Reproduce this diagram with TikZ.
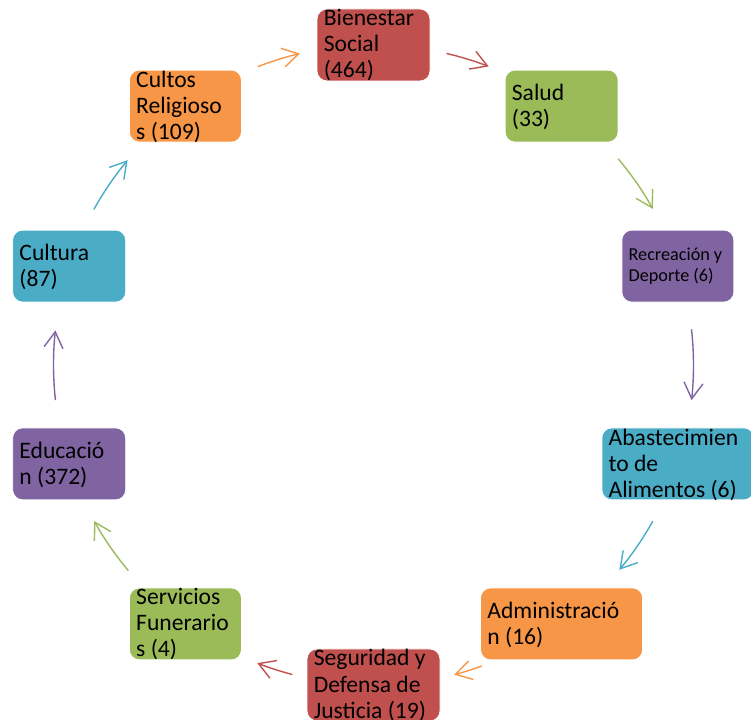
\documentclass[tikz,border=0pt]{standalone}
\usepackage{fontspec}
\setmainfont{Carlito}
\usetikzlibrary{calc,arrows.meta}
\definecolor{cred}{HTML}{C0504D}
\definecolor{cgreen}{HTML}{9BBB59}
\definecolor{cpurple}{HTML}{8064A2}
\definecolor{caqua}{HTML}{4BACC6}
\definecolor{corange}{HTML}{F79646}
\tikzset{
  box/.style={rectangle, rounded corners=10pt, draw=white, line width=0.8pt, inner sep=0pt,
    minimum width=113pt, minimum height=72pt},
  txt/.style={inner sep=0pt, align=left, anchor=base west, text=black,
    font=\fontsize{23.6}{26}\selectfont},
  smalltxt/.style={inner sep=0pt, align=left, anchor=base west, text=black,
    font=\fontsize{18.2}{21.7}\selectfont},
  arr/.style={line width=1.4pt, -{Straight Barb[length=16pt,width=19pt]}, looseness=0.85},
}
\begin{document}
\begin{tikzpicture}[x=1pt,y=1pt]
\useasboundingbox (0,0) rectangle (751,719);
\clip (0,0) rectangle (751,719);
\coordinate (O) at (373.5,354);
% boxes
\node[box, fill=cred] (bien) at ($(O)+(90:320)$) {};
\node[box, fill=cgreen] (salud) at ($(O)+(54:320)$) {};
\node[box, fill=cpurple, minimum width=112pt] (recre) at ($(O)+(18:320)$) {};
\node[box, fill=caqua, minimum width=152pt] (abast) at ($(O)+(-18:320)$) {};
\node[box, fill=corange, minimum width=162pt] (admin) at ($(O)+(-54:320)$) {};
\node[box, fill=cred, minimum width=133pt] (segur) at ($(O)+(-90:320)$) {};
\node[box, fill=cgreen, minimum width=112pt] (serv) at ($(O)+(-126:320)$) {};
\node[box, fill=cpurple] (educ) at ($(O)+(-162:320)$) {};
\node[box, fill=caqua] (cult) at ($(O)+(162:320)$) {};
\node[box, fill=corange, minimum width=112pt] (cultos) at ($(O)+(126:320)$) {};
% texts (base anchor = baseline of the last line)
\node[txt] (tbien) at ([xshift=7pt,yshift=-33pt]bien.west) {Bienestar\\Social\\(464)};
\node[txt] (tsalud) at ([xshift=7pt,yshift=-20.5pt]salud.west) {Salud\\(33)};
\node[smalltxt] (trecre) at ([xshift=7pt,yshift=-15.7pt]recre.west) {Recreación y\\Deporte (6)};
\node[txt] (tabast) at ([xshift=7pt,yshift=-33.5pt]abast.west) {Abastecimien\\to de\\Alimentos (6)};
\node[txt] (tadmin) at ([xshift=7pt,yshift=-21pt]admin.west) {Administració\\n (16)};
\node[txt] (tsegur) at ([xshift=7pt,yshift=-33pt]segur.west) {Seguridad y\\Defensa de\\Justicia (19)};
\node[txt] (tserv) at ([xshift=7pt,yshift=-32.5pt]serv.west) {Servicios\\Funerario\\s (4)};
\node[txt] (teduc) at ([xshift=7pt,yshift=-20.5pt]educ.west) {Educació\\n (372)};
\node[txt] (tcult) at ([xshift=7pt,yshift=-20.5pt]cult.west) {Cultura\\(87)};
\node[txt] (tcultos) at ([xshift=7pt,yshift=-33pt]cultos.west) {Cultos\\Religioso\\s (109)};
% arrows (arcs of the cycle)
\draw[arr, draw=corange] ($(O)!1!-14.8:(cultos.center)$) to[bend left=3.95] ($(O)!1!13.3:(bien.center)$);
\draw[arr, draw=cred] ($(O)!1!-13.2:(bien.center)$) to[bend left=3.95] ($(O)!1!14.9:(salud.center)$);
\draw[arr, draw=cgreen] ($(O)!1!-13.9:(salud.center)$) to[bend left=5.45] ($(O)!1!11.2:(recre.center)$);
\draw[arr, draw=cpurple] ($(O)!1!-11.6:(recre.center)$) to[bend left=6.35] ($(O)!1!11.7:(abast.center)$);
\draw[arr, draw=caqua] ($(O)!1!-11.2:(abast.center)$) to[bend left=5.3] ($(O)!1!14.2:(admin.center)$);
\draw[arr, draw=corange] ($(O)!1!-16.2:(admin.center)$) to[bend left=2.6] ($(O)!1!14.6:(segur.center)$);
\draw[arr, draw=cred] ($(O)!1!-14.7:(segur.center)$) to[bend left=3.3] ($(O)!1!14.7:(serv.center)$);
\draw[arr, draw=cgreen] ($(O)!1!-14:(serv.center)$) to[bend left=5.4] ($(O)!1!11.2:(educ.center)$);
\draw[arr, draw=cpurple] ($(O)!1!-11.7:(educ.center)$) to[bend left=6.25] ($(O)!1!11.8:(cult.center)$);
\draw[arr, draw=caqua] ($(O)!1!-11.1:(cult.center)$) to[bend left=5.35] ($(O)!1!14.2:(cultos.center)$);
\end{tikzpicture}
\end{document}
